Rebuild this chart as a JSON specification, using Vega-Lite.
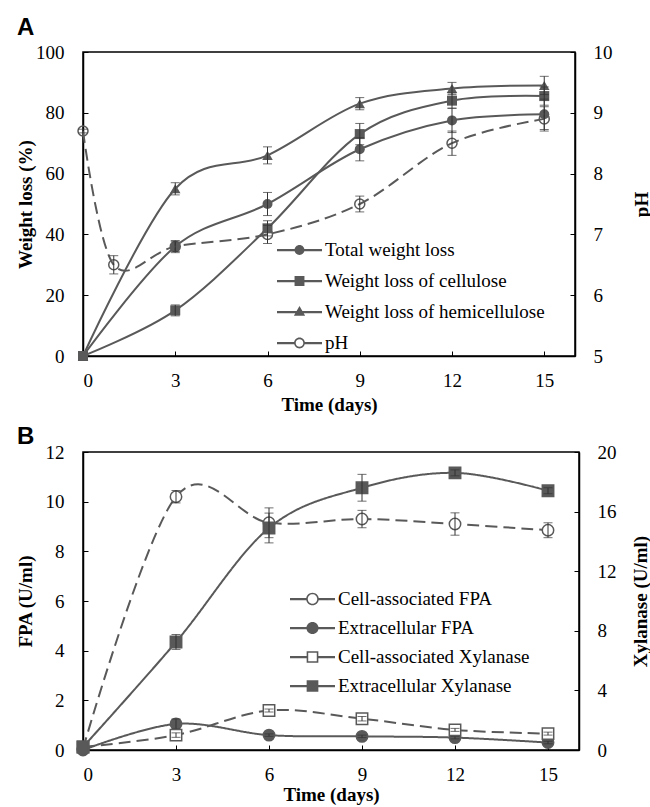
{
  "$schema": "https://vega.github.io/schema/vega-lite/v6.json",
  "background": "white",
  "padding": {"left": 15, "top": 15, "right": 0, "bottom": 0},
  "spacing": 9,
  "datasets": {
    "a": [
      {"series": "Total weight loss", "day": 0, "value": 0, "err": 0},
      {"series": "Total weight loss", "day": 3, "value": 36, "err": 2},
      {"series": "Total weight loss", "day": 6, "value": 50, "err": 3.8},
      {"series": "Total weight loss", "day": 9, "value": 68, "err": 3.8},
      {"series": "Total weight loss", "day": 12, "value": 77.5, "err": 4},
      {"series": "Total weight loss", "day": 15, "value": 79.5, "err": 5},
      {"series": "Weight loss of cellulose", "day": 0, "value": 0, "err": 0},
      {"series": "Weight loss of cellulose", "day": 3, "value": 15, "err": 1.8},
      {"series": "Weight loss of cellulose", "day": 6, "value": 42, "err": 2.5},
      {"series": "Weight loss of cellulose", "day": 9, "value": 73, "err": 3.5},
      {"series": "Weight loss of cellulose", "day": 12, "value": 84, "err": 2.5},
      {"series": "Weight loss of cellulose", "day": 15, "value": 85.5, "err": 3},
      {"series": "Weight loss of hemicellulose", "day": 0, "value": 0, "err": 0},
      {"series": "Weight loss of hemicellulose", "day": 3, "value": 55, "err": 2},
      {"series": "Weight loss of hemicellulose", "day": 6, "value": 66, "err": 2.8},
      {"series": "Weight loss of hemicellulose", "day": 9, "value": 83, "err": 2},
      {"series": "Weight loss of hemicellulose", "day": 12, "value": 88, "err": 2},
      {"series": "Weight loss of hemicellulose", "day": 15, "value": 89, "err": 3},
      {"series": "pH", "day": 0, "value": 8.7, "err": 0.03},
      {"series": "pH", "day": 1, "value": 6.5, "err": 0.15},
      {"series": "pH", "day": 3, "value": 6.8, "err": 0.08},
      {"series": "pH", "day": 6, "value": 7.0, "err": 0.15},
      {"series": "pH", "day": 9, "value": 7.5, "err": 0.13},
      {"series": "pH", "day": 12, "value": 8.5, "err": 0.2},
      {"series": "pH", "day": 15, "value": 8.9, "err": 0.2}
    ],
    "b": [
      {"series": "Cell-associated FPA", "day": 0, "value": 0.05, "err": 0},
      {"series": "Cell-associated FPA", "day": 3, "value": 10.2, "err": 0.25},
      {"series": "Cell-associated FPA", "day": 6, "value": 9.15, "err": 0.6},
      {"series": "Cell-associated FPA", "day": 9, "value": 9.3, "err": 0.35},
      {"series": "Cell-associated FPA", "day": 12, "value": 9.1, "err": 0.45},
      {"series": "Cell-associated FPA", "day": 15, "value": 8.85, "err": 0.3},
      {"series": "Extracellular FPA", "day": 0, "value": 0, "err": 0},
      {"series": "Extracellular FPA", "day": 3, "value": 1.05, "err": 0.2},
      {"series": "Extracellular FPA", "day": 6, "value": 0.6, "err": 0.05},
      {"series": "Extracellular FPA", "day": 9, "value": 0.55, "err": 0.05},
      {"series": "Extracellular FPA", "day": 12, "value": 0.5, "err": 0.05},
      {"series": "Extracellular FPA", "day": 15, "value": 0.3, "err": 0.05},
      {"series": "Cell-associated Xylanase", "day": 0, "value": 0.2, "err": 0},
      {"series": "Cell-associated Xylanase", "day": 3, "value": 1.0, "err": 0.15},
      {"series": "Cell-associated Xylanase", "day": 6, "value": 2.65, "err": 0.1},
      {"series": "Cell-associated Xylanase", "day": 9, "value": 2.1, "err": 0.15},
      {"series": "Cell-associated Xylanase", "day": 12, "value": 1.35, "err": 0.1},
      {"series": "Cell-associated Xylanase", "day": 15, "value": 1.1, "err": 0.1},
      {"series": "Extracellular Xylanase", "day": 0, "value": 0.2, "err": 0},
      {"series": "Extracellular Xylanase", "day": 3, "value": 7.25, "err": 0.5},
      {"series": "Extracellular Xylanase", "day": 6, "value": 14.9, "err": 1.0},
      {"series": "Extracellular Xylanase", "day": 9, "value": 17.6, "err": 0.9},
      {"series": "Extracellular Xylanase", "day": 12, "value": 18.6, "err": 0.2},
      {"series": "Extracellular Xylanase", "day": 15, "value": 17.4, "err": 0.2}
    ]
  },
  "config": {
    "font": "Liberation Serif",
    "view": {"stroke": "black", "strokeWidth": 1.5},
    "style": {"guide-label": {"font": "Liberation Serif", "fontSize": 19, "fill": "black"}, "guide-title": {"font": "Liberation Serif", "fontSize": 19, "fill": "black"}},
    "axis": {
      "labelFont": "Liberation Serif", "labelFontSize": 19, "labelColor": "black",
      "titleFont": "Liberation Serif", "titleFontSize": 19, "titleFontWeight": "bold", "titleColor": "black",
      "domainColor": "black", "domainWidth": 1.5, "tickColor": "black", "tickWidth": 1, "tickSize": -5, "grid": false
    },
    "legend": {
      "orient": "none", "title": null, "labelFont": "Liberation Serif", "labelFontSize": 19, "labelColor": "black",
      "labelLimit": 400, "symbolSize": 2025, "clipHeight": 20, "labelOffset": 3, "padding": 0,
      "symbolOpacity": 1, "symbolStrokeWidth": 0
    },
    "title": {"font": "Liberation Sans", "fontSize": 24, "fontWeight": "bold", "anchor": "start", "frame": "group", "color": "black", "baseline": "alphabetic"}
  },
  "resolve": {"scale": {"shape": "independent", "x": "independent", "y": "independent"}, "legend": {"shape": "independent"}},
  "vconcat": [
    {
      "width": 492, "height": 304,
      "title": {"text": "A", "dx": -66, "offset": 3},
      "data": {"name": "a"},
      "layer": [
        {
          "transform": [{"filter": "datum.series !== 'pH'"}],
          "layer": [
            {
              "mark": {"type": "line", "interpolate": "cardinal", "strokeWidth": 2, "color": "#595959"},
              "encoding": {
                "x": {"field": "day", "type": "quantitative", "scale": {"domain": [0, 16]}, "axis": {"values": [0, 3, 6, 9, 12, 15], "title": "Time (days)", "labelFont": "Liberation Serif", "labelPadding": 20, "titleX": 246, "titleY": 54, "titleBaseline": "alphabetic"}},
                "y": {"field": "value", "type": "quantitative", "scale": {"domain": [0, 100]}, "axis": {"values": [0, 20, 40, 60, 80, 100], "title": "Weight loss (%)", "labelFont": "Liberation Serif", "labelPadding": 24, "titleX": -58, "titleY": 152, "titleAngle": 270, "titleBaseline": "middle", "titleAlign": "center"}},
                "detail": {"field": "series"}
              }
            },
            {
              "transform": [{"filter": "datum.series === 'Total weight loss'"}],
              "mark": {"type": "point", "shape": "circle", "filled": true, "opacity": 1, "color": "#595959", "size": 100},
              "encoding": {
                "x": {"field": "day", "type": "quantitative", "title": "Time (days)"},
                "y": {"field": "value", "type": "quantitative", "title": "Weight loss (%)"}
              }
            },
            {
              "transform": [{"filter": "datum.series === 'Weight loss of cellulose'"}],
              "mark": {"type": "point", "shape": "square", "filled": true, "opacity": 1, "color": "#595959", "size": 100},
              "encoding": {
                "x": {"field": "day", "type": "quantitative", "title": "Time (days)"},
                "y": {"field": "value", "type": "quantitative", "title": "Weight loss (%)"}
              }
            },
            {
              "transform": [{"filter": "datum.series === 'Weight loss of hemicellulose'"}],
              "mark": {"type": "point", "shape": "triangle-up", "filled": true, "opacity": 1, "color": "#595959", "size": 110},
              "encoding": {
                "x": {"field": "day", "type": "quantitative", "title": "Time (days)"},
                "y": {"field": "value", "type": "quantitative", "title": "Weight loss (%)"}
              }
            },
            {
              "transform": [{"filter": "datum.err > 0"}],
              "mark": {"type": "errorbar", "ticks": true, "size": 9, "thickness": 1, "color": "#333333"},
              "encoding": {
                "x": {"field": "day", "type": "quantitative", "title": "Time (days)"},
                "y": {"field": "value", "type": "quantitative", "title": "Weight loss (%)"},
                "yError": {"field": "err"}
              }
            },
            {
              "transform": [{"filter": "datum.day < 0"}],
              "mark": {"type": "point", "filled": true, "opacity": 1, "color": "#595959", "size": 100},
              "encoding": {
                "x": {"field": "day", "type": "quantitative", "title": "Time (days)"},
                "y": {"field": "value", "type": "quantitative", "title": "Weight loss (%)"},
                "shape": {"field": "series", "type": "nominal",
                  "scale": {"domain": ["Total weight loss", "Weight loss of cellulose", "Weight loss of hemicellulose", "pH"],
                    "range": [
                      "M-1,-0.05H-0.21V0.05H-1Z M0.21,-0.05H1V0.05H0.21Z M-0.22,0A0.22,0.22 0 1,1 0.22,0A0.22,0.22 0 1,1 -0.22,0Z",
                      "M-1,-0.05H-0.21V0.05H-1Z M0.21,-0.05H1V0.05H0.21Z M-0.22,-0.22H0.22V0.22H-0.22Z",
                      "M-1,-0.05H-0.12V0.05H-1Z M0.12,-0.05H1V0.05H0.12Z M0,-0.27L0.25,0.17H-0.25Z",
                      "M-1,-0.05H-0.235V0.05H-1Z M0.235,-0.05H1V0.05H0.235Z M-0.24,0A0.24,0.24 0 1,1 0.24,0A0.24,0.24 0 1,1 -0.24,0Z M-0.17,0A0.17,0.17 0 1,0 0.17,0A0.17,0.17 0 1,0 -0.17,0Z"
                    ]},
                  "legend": {"legendX": 194, "legendY": 188, "rowPadding": 11}}
              }
            }
          ]
        },
        {
          "transform": [{"filter": "datum.series === 'pH'"}],
          "layer": [
            {
              "mark": {"type": "line", "interpolate": "cardinal", "strokeWidth": 2, "color": "#595959", "strokeDash": [12, 6]},
              "encoding": {
                "x": {"field": "day", "type": "quantitative", "title": "Time (days)"},
                "y": {"field": "value", "type": "quantitative", "scale": {"domain": [5, 10]}, "axis": {"orient": "right", "values": [5, 6, 7, 8, 9, 10], "format": "d", "title": "pH", "labelFont": "Liberation Serif", "labelPadding": 23, "titleX": 66, "titleY": 152, "titleAngle": 270, "titleBaseline": "middle", "titleAlign": "center"}}
              }
            },
            {
              "mark": {"type": "point", "shape": "circle", "filled": false, "opacity": 1, "stroke": "#595959", "strokeWidth": 1.5, "size": 100},
              "encoding": {
                "x": {"field": "day", "type": "quantitative", "title": "Time (days)"},
                "y": {"field": "value", "type": "quantitative", "title": "pH"}
              }
            },
            {
              "transform": [{"filter": "datum.err > 0"}],
              "mark": {"type": "errorbar", "ticks": true, "size": 9, "thickness": 1, "color": "#333333"},
              "encoding": {
                "x": {"field": "day", "type": "quantitative", "title": "Time (days)"},
                "y": {"field": "value", "type": "quantitative", "title": "pH"},
                "yError": {"field": "err"}
              }
            }
          ]
        }
      ],
      "resolve": {"scale": {"y": "independent"}}
    },
    {
      "width": 496, "height": 298,
      "title": {"text": "B", "dx": -66, "offset": -6},
      "data": {"name": "b"},
      "layer": [
        {
          "transform": [{"filter": "indexof(['Cell-associated FPA', 'Extracellular FPA'], datum.series) >= 0"}],
          "layer": [
            {
              "mark": {"type": "line", "interpolate": "cardinal", "strokeWidth": 2, "color": "#595959"},
              "encoding": {
                "x": {"field": "day", "type": "quantitative", "scale": {"domain": [0, 16]}, "axis": {"values": [0, 3, 6, 9, 12, 15], "title": "Time (days)", "labelFont": "Liberation Serif", "labelPadding": 20, "titleX": 248, "titleY": 50, "titleBaseline": "alphabetic"}},
                "y": {"field": "value", "type": "quantitative", "scale": {"domain": [0, 12]}, "axis": {"values": [0, 2, 4, 6, 8, 10, 12], "title": "FPA (U/ml)", "labelFont": "Liberation Serif", "labelPadding": 24, "titleX": -58, "titleY": 149, "titleAngle": 270, "titleBaseline": "middle", "titleAlign": "center"}},
                "detail": {"field": "series"},
                "strokeDash": {"field": "series", "type": "nominal", "scale": {"domain": ["Cell-associated FPA", "Extracellular FPA"], "range": [[12, 6], [1, 0]]}, "legend": null}
              }
            },
            {
              "transform": [{"filter": "datum.series === 'Cell-associated FPA'"}],
              "mark": {"type": "point", "shape": "circle", "filled": true, "fill": "white", "opacity": 1, "stroke": "#595959", "strokeWidth": 1.5, "size": 130},
              "encoding": {
                "x": {"field": "day", "type": "quantitative", "title": "Time (days)"},
                "y": {"field": "value", "type": "quantitative", "title": "FPA (U/ml)"}
              }
            },
            {
              "transform": [{"filter": "datum.series === 'Extracellular FPA'"}],
              "mark": {"type": "point", "shape": "circle", "filled": true, "fill": "#595959", "opacity": 1, "stroke": "#595959", "strokeWidth": 1.5, "size": 130},
              "encoding": {
                "x": {"field": "day", "type": "quantitative", "title": "Time (days)"},
                "y": {"field": "value", "type": "quantitative", "title": "FPA (U/ml)"}
              }
            },
            {
              "transform": [{"filter": "datum.err > 0"}],
              "mark": {"type": "errorbar", "ticks": true, "size": 9, "thickness": 1, "color": "#333333"},
              "encoding": {
                "x": {"field": "day", "type": "quantitative", "title": "Time (days)"},
                "y": {"field": "value", "type": "quantitative", "title": "FPA (U/ml)"},
                "yError": {"field": "err"}
              }
            },
            {
              "transform": [{"filter": "datum.day < 0"}],
              "mark": {"type": "point", "filled": true, "opacity": 1, "color": "#595959", "size": 100},
              "encoding": {
                "x": {"field": "day", "type": "quantitative", "title": "Time (days)"},
                "y": {"field": "value", "type": "quantitative", "title": "FPA (U/ml)"},
                "shape": {"field": "series", "type": "nominal",
                  "scale": {"domain": ["Cell-associated FPA", "Extracellular FPA", "Cell-associated Xylanase", "Extracellular Xylanase"],
                    "range": [
                      "M-1,-0.05H-0.275V0.05H-1Z M0.275,-0.05H1V0.05H0.275Z M-0.28,0A0.28,0.28 0 1,1 0.28,0A0.28,0.28 0 1,1 -0.28,0Z M-0.21,0A0.21,0.21 0 1,0 0.21,0A0.21,0.21 0 1,0 -0.21,0Z",
                      "M-1,-0.05H-0.26V0.05H-1Z M0.26,-0.05H1V0.05H0.26Z M-0.27,0A0.27,0.27 0 1,1 0.27,0A0.27,0.27 0 1,1 -0.27,0Z",
                      "M-1,-0.05H-0.26V0.05H-1Z M0.26,-0.05H1V0.05H0.26Z M-0.26,-0.26H0.26V0.26H-0.26Z M-0.19,-0.19V0.19H0.19V-0.19Z",
                      "M-1,-0.05H-0.26V0.05H-1Z M0.26,-0.05H1V0.05H0.26Z M-0.26,-0.26H0.26V0.26H-0.26Z"
                    ]},
                  "legend": {"legendX": 207, "legendY": 137, "rowPadding": 9}}
              }
            }
          ]
        },
        {
          "transform": [{"filter": "indexof(['Cell-associated Xylanase', 'Extracellular Xylanase'], datum.series) >= 0"}],
          "layer": [
            {
              "mark": {"type": "line", "interpolate": "cardinal", "strokeWidth": 2, "color": "#595959"},
              "encoding": {
                "x": {"field": "day", "type": "quantitative", "title": "Time (days)"},
                "y": {"field": "value", "type": "quantitative", "scale": {"domain": [0, 20]}, "axis": {"orient": "right", "values": [0, 4, 8, 12, 16, 20], "title": "Xylanase (U/ml)", "labelFont": "Liberation Serif", "labelPadding": 23, "titleX": 61, "titleY": 149, "titleAngle": 270, "titleBaseline": "middle", "titleAlign": "center"}},
                "detail": {"field": "series"},
                "strokeDash": {"field": "series", "type": "nominal", "scale": {"domain": ["Cell-associated Xylanase", "Extracellular Xylanase"], "range": [[12, 6], [1, 0]]}, "legend": null}
              }
            },
            {
              "transform": [{"filter": "datum.series === 'Cell-associated Xylanase'"}],
              "mark": {"type": "point", "shape": "square", "filled": true, "fill": "white", "opacity": 1, "stroke": "#595959", "strokeWidth": 1.5, "size": 130},
              "encoding": {
                "x": {"field": "day", "type": "quantitative", "title": "Time (days)"},
                "y": {"field": "value", "type": "quantitative", "title": "Xylanase (U/ml)"}
              }
            },
            {
              "transform": [{"filter": "datum.series === 'Extracellular Xylanase'"}],
              "mark": {"type": "point", "shape": "square", "filled": true, "fill": "#595959", "opacity": 1, "stroke": "#595959", "strokeWidth": 1.5, "size": 130},
              "encoding": {
                "x": {"field": "day", "type": "quantitative", "title": "Time (days)"},
                "y": {"field": "value", "type": "quantitative", "title": "Xylanase (U/ml)"}
              }
            },
            {
              "transform": [{"filter": "datum.err > 0"}],
              "mark": {"type": "errorbar", "ticks": true, "size": 9, "thickness": 1, "color": "#333333"},
              "encoding": {
                "x": {"field": "day", "type": "quantitative", "title": "Time (days)"},
                "y": {"field": "value", "type": "quantitative", "title": "Xylanase (U/ml)"},
                "yError": {"field": "err"}
              }
            }
          ]
        }
      ],
      "resolve": {"scale": {"y": "independent"}}
    }
  ]
}
